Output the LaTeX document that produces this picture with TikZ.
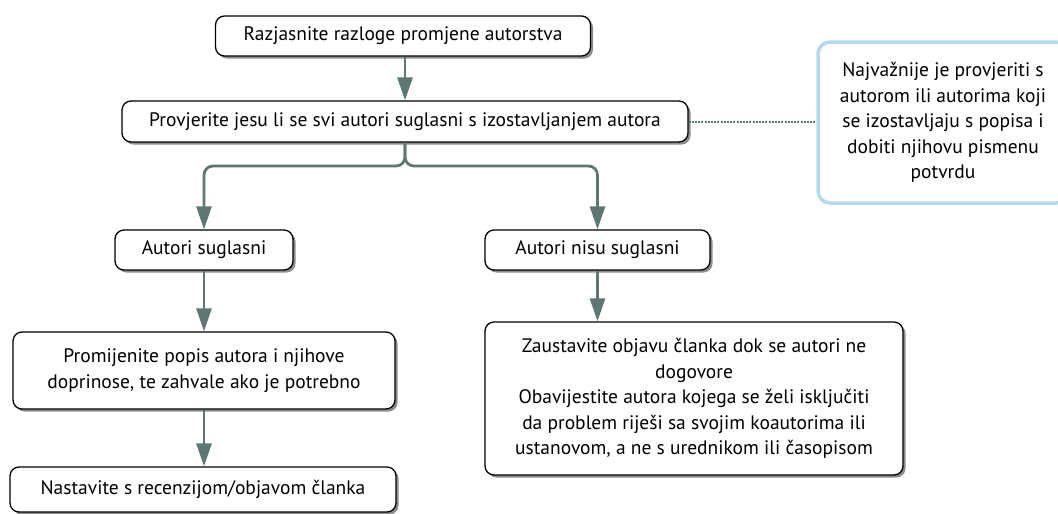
\documentclass[tikz,border=0pt]{standalone}
\usepackage{fontspec}
\setmainfont{PT Sans}
\usetikzlibrary{arrows.meta,shadows}
\definecolor{arrowgray}{HTML}{5F7772}
\definecolor{noteblue}{HTML}{B3DAEE}

\begin{document}
\begin{tikzpicture}[x=1pt,y=-1pt,
	box/.style={draw=black,line width=1.3pt,rounded corners=9pt,fill=white,align=center,inner sep=0pt,
		drop shadow={shadow xshift=2.5pt,shadow yshift=-2.5pt,fill=black,opacity=0.45},
		font=\fontsize{19.5}{25.5}\selectfont},
	note/.style={draw=noteblue,line width=3.5pt,rounded corners=12pt,fill=white,align=center,inner sep=0pt,
		font=\fontsize{19.5}{25.5}\selectfont},
	arr/.style={draw=arrowgray,line width=2.8pt,-{Triangle[length=23pt,width=15pt]}},
	link/.style={draw=arrowgray,line width=2pt,dash pattern=on 2pt off 1.2pt}]
	\clip (0,0) rectangle (1058,514);
	%\draw [help lines,step=50] (0,0) grid (1058,514);

	\node[box,minimum width=375pt,minimum height=40pt] (reasons) at (403,36) {Razjasnite razloge promjene autorstva};
	\node[box,minimum width=566pt,minimum height=41pt] (verify) at (405,121.5) {Provjerite jesu li se svi autori suglasni s izostavljanjem autora};
	\node[note,minimum width=250pt,minimum height=161pt] (hint) at (943,122.5) {Najvažnije je provjeriti s\\autorom ili autorima koji\\se izostavljaju s popisa i\\dobiti njihovu pismenu\\potvrdu};

	\node[box,minimum width=178pt,minimum height=40pt] (agree) at (204,250) {Autori suglasni};
	\node[box,minimum width=225pt,minimum height=40pt] (disagree) at (597.5,250) {Autori nisu suglasni};

	\node[box,minimum width=382pt,minimum height=77pt] (change) at (204,370.5) {Promijenite popis autora i njihove\\doprinose, te zahvale ako je potrebno};
	\node[box,minimum width=386pt,minimum height=45pt] (proceed) at (203,489.5) {Nastavite s recenzijom/objavom članka};
	\node[box,minimum width=418pt,minimum height=153pt] (halt) at (694,398.5) {Zaustavite objavu članka dok se autori ne\\dogovore\\Obavijestite autora kojega se želi isključiti\\da problem riješi sa svojim koautorima ili\\ustanovom, a ne s urednikom ili časopisom};

	\coordinate (split) at (405,166);

	\draw[arr] (reasons.south -| split) -- (verify.north -| split);
	\draw[arr,rounded corners=9pt] (verify.south) -- (split) -| (agree.north);
	\draw[arr,rounded corners=9pt] (verify.south) -- (split) -| (disagree.north);
	\draw[arr] (agree) -- (change);
	\draw[arr] (change.south -| agree) -- (proceed.north -| agree);
	\draw[arr] (disagree.south) -- (disagree.south |- halt.north);
	\draw[link] (verify.east) -- (verify.east -| hint.west);
\end{tikzpicture}
\end{document}
